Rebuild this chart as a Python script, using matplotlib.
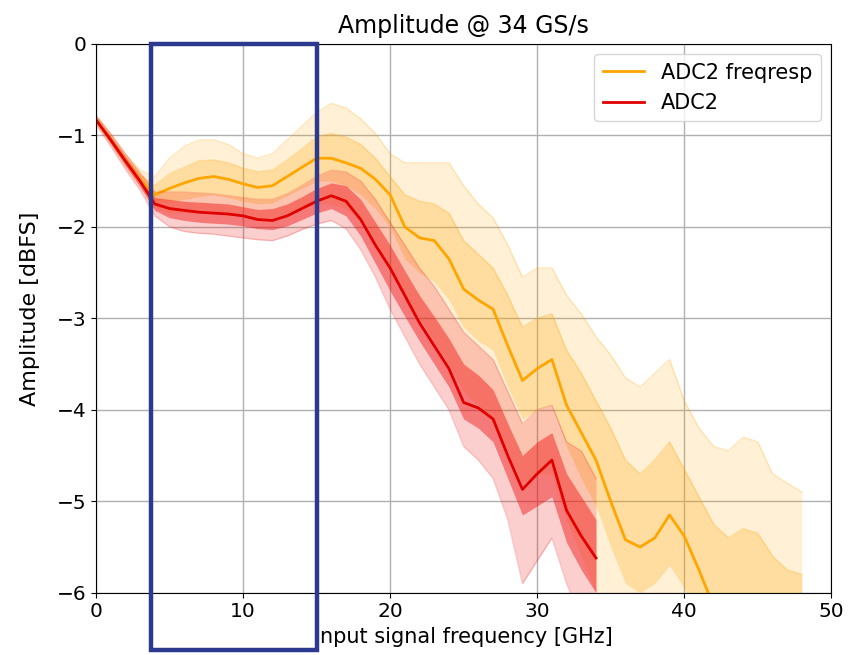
import matplotlib
matplotlib.use("Agg")
import matplotlib.pyplot as plt
from matplotlib.patches import Rectangle

# frequency grids [GHz]
freq_red = list(range(0, 35))
freq_orange = list(range(0, 49))

# ADC2 (red): median line and band edges [dBFS]
red_main = [-0.83, -1.05, -1.28, -1.50, -1.75, -1.80, -1.82, -1.84, -1.85, -1.86,
            -1.88, -1.92, -1.93, -1.88, -1.80, -1.72, -1.66, -1.72, -1.92, -2.20,
            -2.45, -2.75, -3.05, -3.30, -3.55, -3.92, -3.98, -4.10, -4.50, -4.87,
            -4.70, -4.55, -5.10, -5.38, -5.62]
red_hi_out = [-0.78, -0.98, -1.20, -1.41, -1.62, -1.62, -1.62, -1.63, -1.64, -1.66,
              -1.68, -1.70, -1.70, -1.64, -1.55, -1.45, -1.38, -1.40, -1.50, -1.70,
              -1.95, -2.20, -2.45, -2.65, -2.90, -3.15, -3.30, -3.45, -3.80, -4.15,
              -4.00, -3.95, -4.35, -4.45, -4.75]
red_hi_in = [-0.80, -1.01, -1.23, -1.45, -1.68, -1.70, -1.72, -1.73, -1.74, -1.75,
             -1.78, -1.81, -1.80, -1.75, -1.67, -1.58, -1.52, -1.55, -1.70, -1.95,
             -2.20, -2.48, -2.75, -2.98, -3.22, -3.50, -3.62, -3.78, -4.15, -4.50,
             -4.35, -4.25, -4.70, -4.95, -5.20]
red_lo_in = [-0.86, -1.09, -1.33, -1.56, -1.82, -1.90, -1.93, -1.95, -1.96, -1.97,
             -1.99, -2.02, -2.03, -1.99, -1.92, -1.85, -1.80, -1.88, -2.10, -2.40,
             -2.70, -2.98, -3.25, -3.50, -3.75, -4.10, -4.20, -4.35, -4.75, -5.15,
             -5.05, -4.95, -5.45, -5.75, -6.00]
red_lo_out = [-0.88, -1.12, -1.37, -1.60, -1.88, -2.00, -2.05, -2.07, -2.08, -2.10,
              -2.12, -2.14, -2.15, -2.10, -2.03, -1.97, -1.93, -2.02, -2.25, -2.55,
              -2.90, -3.20, -3.50, -3.75, -4.00, -4.40, -4.55, -4.75, -5.20, -5.90,
              -5.65, -5.40, -5.90, -6.30, -6.50]

# ADC2 freqresp (orange): median line and band edges [dBFS]
orange_main = [-0.83, -1.05, -1.28, -1.48, -1.65, -1.58, -1.52, -1.47, -1.45, -1.48,
               -1.53, -1.57, -1.55, -1.45, -1.35, -1.25, -1.25, -1.30, -1.36, -1.48,
               -1.65, -2.00, -2.12, -2.15, -2.35, -2.68, -2.80, -2.90, -3.30, -3.68,
               -3.55, -3.45, -3.95, -4.25, -4.55, -5.00, -5.42, -5.50, -5.40, -5.15,
               -5.38, -5.75, -6.15, -6.40, -6.50, -6.50, -6.60, -6.60, -6.60]
orange_hi_out = [-0.78, -0.99, -1.21, -1.38, -1.45, -1.25, -1.12, -1.05, -1.05, -1.10,
                 -1.20, -1.25, -1.20, -1.05, -0.90, -0.75, -0.65, -0.70, -0.82, -0.98,
                 -1.20, -1.30, -1.30, -1.30, -1.30, -1.55, -1.75, -1.90, -2.20, -2.55,
                 -2.45, -2.45, -2.75, -2.95, -3.20, -3.40, -3.65, -3.75, -3.60, -3.45,
                 -3.90, -4.20, -4.40, -4.45, -4.30, -4.35, -4.70, -4.80, -4.90]
orange_hi_in = [-0.80, -1.02, -1.24, -1.43, -1.55, -1.42, -1.35, -1.28, -1.27, -1.30,
                -1.36, -1.40, -1.38, -1.27, -1.15, -1.02, -0.98, -1.02, -1.10, -1.25,
                -1.45, -1.65, -1.72, -1.75, -1.85, -2.15, -2.30, -2.45, -2.75, -3.10,
                -3.00, -2.95, -3.35, -3.60, -3.90, -4.20, -4.55, -4.70, -4.55, -4.35,
                -4.65, -4.95, -5.25, -5.40, -5.30, -5.35, -5.60, -5.75, -5.80]
orange_lo_in = [-0.86, -1.08, -1.32, -1.53, -1.72, -1.72, -1.70, -1.67, -1.65, -1.68,
                -1.72, -1.75, -1.74, -1.66, -1.58, -1.50, -1.50, -1.55, -1.65, -1.80,
                -2.00, -2.35, -2.50, -2.60, -2.80, -3.10, -3.25, -3.35, -3.75, -4.10,
                -4.00, -3.95, -4.40, -4.75, -5.05, -5.50, -5.90, -6.00, -5.90, -5.70,
                -5.95, -6.30, -6.60, -6.60, -6.60, -6.60, -6.60, -6.60, -6.60]
orange_lo_out = [-0.88, -1.11, -1.35, -1.57, -1.80, -1.85, -1.85, -1.85, -1.85, -1.87,
                 -1.88, -1.90, -1.90, -1.85, -1.80, -1.75, -1.75, -1.80, -1.95, -2.20,
                 -2.45, -2.75, -3.00, -3.25, -3.50, -3.80, -3.95, -4.10, -4.45, -4.80,
                 -4.70, -4.70, -5.20, -5.60, -6.00, -6.40, -6.60, -6.60, -6.60, -6.60,
                 -6.60, -6.60, -6.60, -6.60, -6.60, -6.60, -6.60, -6.60, -6.60]

ORANGE = "#FFA500"
RED = "#F01010"

fig = plt.figure(figsize=(8.57, 6.55), dpi=100)
ax = fig.add_axes([0.112, 0.095, 0.858, 0.838])

# orange spread (many measurements) -> layered bands
ax.fill_between(freq_orange, orange_lo_out, orange_hi_out, color=ORANGE, alpha=0.16, lw=0)
ax.fill_between(freq_orange, orange_lo_in, orange_hi_in, color=ORANGE, alpha=0.25, lw=0)
ax.plot(freq_orange, orange_hi_out, color=ORANGE, alpha=0.25, lw=1)
ax.plot(freq_orange, orange_hi_in, color=ORANGE, alpha=0.3, lw=1)
ax.plot(freq_orange, orange_main, color=ORANGE, lw=2, label="ADC2 freqresp")

# red spread
ax.fill_between(freq_red, red_lo_out, red_hi_out, color=RED, alpha=0.2, lw=0)
ax.fill_between(freq_red, red_lo_in, red_hi_in, color=RED, alpha=0.45, lw=0)
ax.plot(freq_red, red_hi_out, color=RED, alpha=0.2, lw=1)
ax.plot(freq_red, red_lo_out, color=RED, alpha=0.2, lw=1)
ax.plot(freq_red, red_main, color="#E00000", lw=2, label="ADC2")

ax.set_xlim(0, 50)
ax.set_ylim(-6, 0)
ax.set_xticks([0, 10, 20, 30, 40, 50])
ax.set_yticks([0, -1, -2, -3, -4, -5, -6])
ax.tick_params(labelsize=14.5)
ax.grid(True, color="#b0b0b0", lw=1)
ax.set_axisbelow(True)
ax.set_title("Amplitude @ 34 GS/s", fontsize=17, pad=8)
ax.set_xlabel("Input signal frequency [GHz]", fontsize=15)
ax.set_ylabel("Amplitude [dBFS]", fontsize=16)
ax.yaxis.set_label_coords(-0.076, 0.517)
ax.legend(loc="upper right", fontsize=15)

# highlight box
ax.add_patch(Rectangle((3.75, -6.63), 11.25, 6.63, fill=False, edgecolor="#2B3A8E",
                       lw=3.2, clip_on=False, zorder=10))

fig.savefig("out.png", dpi=100)
